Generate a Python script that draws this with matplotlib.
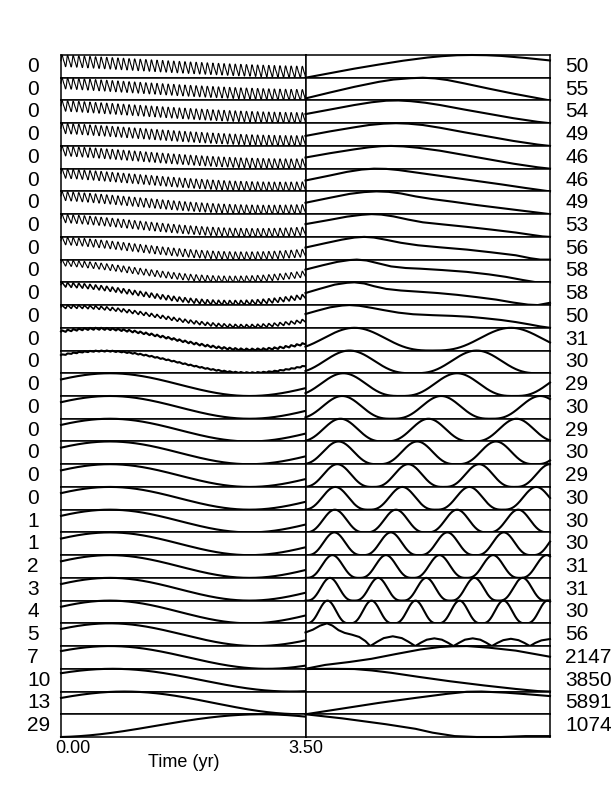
import numpy as np
import matplotlib.pyplot as plt
from matplotlib.transforms import ScaledTranslation

plt.rcParams['font.family'] = ['Liberation Sans', 'DejaVu Sans']

# side labels, top row first
left_labels = ['0'] * 20 + ['1', '1', '2', '3', '4', '5', '7', '10', '13', '29']
right_labels = ['50', '55', '54', '49', '46', '46', '49', '53', '56', '58',
                '58', '50', '31', '30', '29', '30', '29', '30', '29', '30',
                '30', '30', '31', '31', '30', '56', '2147', '3850', '5891', '1074']

# left column: slow swing (peak time, period in yr) plus a fast ripple
slow_peak = [-2.1, -1.75, -1.58, -1.4, -1.22, -1.05, -0.88, -0.7, -0.52, -0.35,
             -0.18, 0.18, 0.52, 0.6, 0.7, 0.7, 0.7, 0.7, 0.7, 0.7,
             0.7, 0.7, 0.7, 0.7, 0.7, 0.7, 0.7, 0.74, 0.91, 2.87]
slow_period = [12.6, 11.2, 10.5, 9.8, 9.1, 8.4, 7.7, 7.0, 6.3, 5.6,
               5.25, 4.9, 4.38, 4.2, 4.0, 4.0, 4.0, 4.0, 4.0, 4.0,
               4.0, 4.0, 4.0, 4.0, 4.0, 4.2, 4.5, 5.1, 5.1, 6.0]
ripple_amp = [0.64, 0.62, 0.6, 0.58, 0.55, 0.52, 0.5, 0.46, 0.42, 0.32,
              0.22, 0.15, 0.08, 0.04] + [0] * 16
ripple_period = 0.08

# right column rows 12-24: repeating humps (first peak, period, as fraction of width)
hump_first = [0.2, 0.18, 0.155, 0.15, 0.143, 0.135, 0.13, 0.122, 0.12, 0.118, 0.11, 0.1, 0.09]
hump_period = [0.64, 0.52, 0.465, 0.405, 0.36, 0.322, 0.29, 0.274, 0.25, 0.231, 0.219, 0.197, 0.18]

# right column rows 0-11: traced curves
top_x = [
    [0, 0.1, 0.2, 0.3, 0.4, 0.5, 0.56, 0.62, 0.68, 0.74, 0.8, 0.9, 1],
    [0, 0.1, 0.2, 0.3, 0.36, 0.43, 0.48, 0.53, 0.58, 0.65, 0.75, 0.85, 0.95, 1],
    [0, 0.1, 0.2, 0.27, 0.33, 0.38, 0.43, 0.49, 0.55, 0.65, 0.75, 0.85, 0.95, 1],
    [0, 0.1, 0.2, 0.26, 0.32, 0.37, 0.42, 0.48, 0.55, 0.65, 0.75, 0.85, 0.95, 1],
    [0, 0.1, 0.2, 0.26, 0.31, 0.35, 0.4, 0.46, 0.55, 0.65, 0.75, 0.85, 0.95, 1],
    [0, 0.1, 0.17, 0.23, 0.28, 0.33, 0.38, 0.44, 0.5, 0.6, 0.7, 0.8, 0.9, 1],
    [0, 0.1, 0.18, 0.24, 0.29, 0.34, 0.39, 0.45, 0.52, 0.6, 0.7, 0.85, 1],
    [0, 0.1, 0.17, 0.23, 0.27, 0.31, 0.36, 0.42, 0.48, 0.56, 0.66, 0.76, 0.86, 0.93, 0.97, 1],
    [0, 0.08, 0.15, 0.2, 0.24, 0.28, 0.33, 0.39, 0.46, 0.55, 0.66, 0.76, 0.86, 0.92, 0.96, 1],
    [0, 0.07, 0.13, 0.18, 0.21, 0.25, 0.3, 0.35, 0.41, 0.47, 0.56, 0.66, 0.75, 0.82, 0.89, 0.94, 1],
    [0, 0.06, 0.12, 0.17, 0.2, 0.24, 0.28, 0.33, 0.39, 0.46, 0.54, 0.62, 0.7, 0.78, 0.85, 0.91, 0.95, 1],
    [0, 0.05, 0.1, 0.15, 0.18, 0.22, 0.27, 0.32, 0.38, 0.44, 0.52, 0.6, 0.67, 0.73, 0.8, 0.86, 0.92, 0.96, 1],
]
top_y = [
    [0, 0.2, 0.4, 0.58, 0.75, 0.89, 0.95, 0.99, 1.0, 0.99, 0.96, 0.87, 0.76],
    [0.09, 0.35, 0.6, 0.82, 0.92, 0.98, 1.0, 0.97, 0.9, 0.75, 0.52, 0.3, 0.1, 0],
    [0.4, 0.6, 0.8, 0.92, 0.99, 1.0, 0.97, 0.9, 0.8, 0.6, 0.41, 0.22, 0.06, 0],
    [0.44, 0.64, 0.82, 0.92, 0.98, 1.0, 0.98, 0.92, 0.8, 0.6, 0.41, 0.22, 0.06, 0],
    [0.49, 0.68, 0.85, 0.94, 0.99, 1.0, 0.98, 0.92, 0.79, 0.6, 0.41, 0.22, 0.06, 0],
    [0.48, 0.7, 0.86, 0.96, 1.0, 0.99, 0.94, 0.85, 0.76, 0.61, 0.46, 0.31, 0.15, 0],
    [0.5, 0.72, 0.89, 0.97, 1.0, 0.98, 0.91, 0.78, 0.66, 0.55, 0.4, 0.2, 0],
    [0.56, 0.75, 0.89, 0.97, 1.0, 0.98, 0.9, 0.76, 0.64, 0.55, 0.44, 0.32, 0.19, 0.08, 0.02, 0],
    [0.53, 0.72, 0.88, 0.97, 1.0, 0.97, 0.87, 0.74, 0.63, 0.54, 0.44, 0.32, 0.19, 0.06, 0.0, 0],
    [0.56, 0.75, 0.9, 0.98, 1.0, 0.96, 0.83, 0.7, 0.63, 0.6, 0.54, 0.46, 0.35, 0.24, 0.1, 0.01, 0],
    [0.53, 0.72, 0.9, 0.98, 1.0, 0.95, 0.83, 0.71, 0.64, 0.59, 0.53, 0.45, 0.35, 0.24, 0.11, 0.02, 0.0, 0.1],
    [0.61, 0.76, 0.9, 0.98, 1.0, 0.97, 0.88, 0.78, 0.67, 0.6, 0.56, 0.53, 0.49, 0.43, 0.35, 0.26, 0.15, 0.07, 0.01],
]

# right column rows 25-29: traced curves
low_x = [
    [0, 0.03, 0.06, 0.088, 0.11, 0.135, 0.16, 0.19, 0.22, 0.245, 0.265,
     0.293, 0.32, 0.357, 0.394, 0.421, 0.449,
     0.472, 0.496, 0.527, 0.558, 0.582, 0.605,
     0.629, 0.652, 0.684, 0.715, 0.739, 0.762,
     0.785, 0.809, 0.84, 0.871, 0.895, 0.918,
     0.94, 0.965, 1],
    [0, 0.08, 0.18, 0.27, 0.37, 0.47, 0.55, 0.6, 0.66, 0.75, 0.86, 1],
    [0, 0.1, 0.2, 0.27, 0.35, 0.46, 0.59, 0.73, 0.86, 0.95, 1],
    [0, 0.15, 0.3, 0.45, 0.58, 0.66, 0.72, 0.82, 0.92, 1],
    [0, 0.15, 0.33, 0.45, 0.52, 0.61, 0.7, 0.8, 0.9, 1],
]
low_y = [
    [0.6, 0.72, 0.9, 1.0, 0.9, 0.7, 0.58, 0.5, 0.4, 0.22, 0.0,
     0.19, 0.35, 0.43, 0.35, 0.19, 0.0,
     0.15, 0.28, 0.34, 0.28, 0.15, 0.0,
     0.15, 0.28, 0.34, 0.28, 0.15, 0.0,
     0.14, 0.26, 0.32, 0.26, 0.14, 0.0,
     0.14, 0.25, 0.31],
    [0, 0.17, 0.3, 0.44, 0.65, 0.85, 0.96, 0.99, 1.0, 0.93, 0.8, 0.53],
    [0.99, 1.0, 0.99, 0.93, 0.83, 0.66, 0.47, 0.29, 0.14, 0.05, 0.03],
    [0, 0.25, 0.5, 0.72, 0.9, 0.99, 1.0, 0.95, 0.87, 0.8],
    [1, 0.82, 0.56, 0.36, 0.19, 0.04, 0.0, 0.0, 0.04, 0.04],
]

fig, axes = plt.subplots(30, 2, figsize=(6.12, 7.92), dpi=100,
                         gridspec_kw=dict(hspace=0, wspace=0))
fig.subplots_adjust(left=61 / 612, right=550 / 612, top=1 - 55 / 792, bottom=1 - 737 / 792)

t = np.linspace(0, 3.5, 3000)
u = np.linspace(0, 1, 800)

for i in range(30):
    axl, axr = axes[i]

    y = np.cos(2 * np.pi * (t - slow_peak[i]) / slow_period[i])
    amp = ripple_amp[i]
    if amp > 0:
        ph = 2 * np.pi * t / ripple_period
        y = y + amp * (np.sin(ph) + 0.3 * np.sin(2 * ph))
    lw = 0.8 if amp >= 0.3 else (1.1 if amp >= 0.1 else 1.5)
    axl.plot(t, y, color='black', lw=lw, clip_on=False)
    axl.set_xlim(0, 3.5)
    axl.set_ylim(y.min(), y.max())

    if i < 12:
        xr, yr = top_x[i], top_y[i]
    elif i < 25:
        k = i - 12
        th = 2 * np.pi * (u - hump_first[k]) / hump_period[k]
        xr, yr = u, ((1 + np.cos(th)) / 2) ** 1.5
    else:
        xr, yr = low_x[i - 25], low_y[i - 25]
    axr.plot(xr, yr, color='black', lw=1.5, clip_on=False)
    axr.set_xlim(0, 1)
    axr.set_ylim(min(yr), max(yr))

    for ax in (axl, axr):
        ax.set_xticks([])
        ax.set_yticks([])
        for s in ax.spines.values():
            s.set_linewidth(1.1)

    pos = axl.get_position()
    yc = (pos.y0 + pos.y1) / 2
    fig.text(27 / 612, yc, left_labels[i], ha='left', va='center', fontsize=15)
    fig.text(565 / 612, yc, right_labels[i], ha='left', va='center', fontsize=15)

# time axis on the bottom left panel
axb = axes[-1][0]
axb.set_xticks([0, 3.5])
axb.set_xticklabels(['0.00', '3.50'], fontsize=13)
axb.tick_params(axis='x', length=0, pad=2)
lab0 = axb.get_xticklabels()[0]
lab0.set_transform(lab0.get_transform() + ScaledTranslation(0.12, 0, fig.dpi_scale_trans))
axb.set_xlabel('Time (yr)', fontsize=13, labelpad=-2)

fig.savefig('out.png', dpi=100)
